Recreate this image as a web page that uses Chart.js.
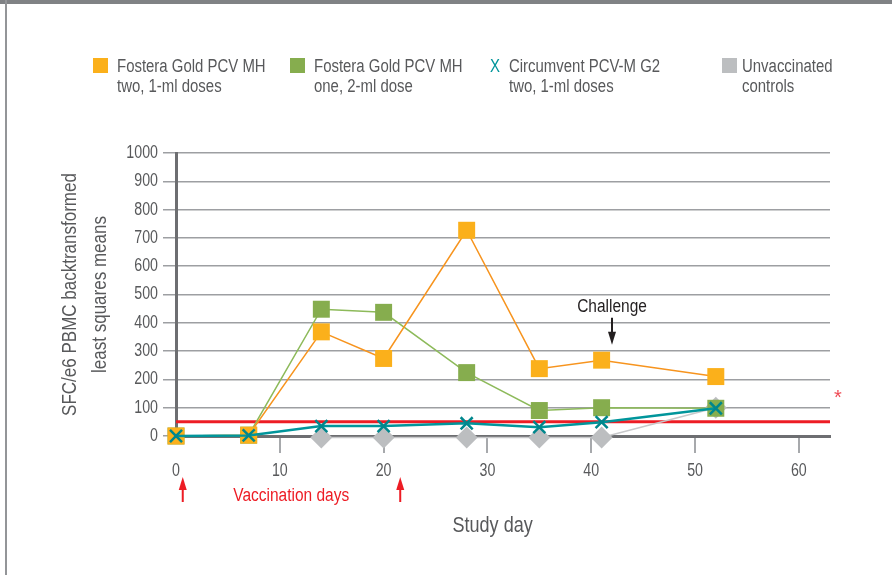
<!DOCTYPE html>
<html><head><meta charset="UTF-8"/>
<title>SFC/e6 PBMC por dia de estudo</title>
<script src="https://cdn.jsdelivr.net/npm/chart.js"></script>
<style>
* {
    margin: 0;
    padding: 0;
    box-sizing: border-box;
}

body {
    background: #ffffff;
    width: 892px;
    height: 575px;
    overflow: hidden;
    position: relative;
    font-family: 'Liberation Sans', Arial, sans-serif;
    color: #58595b;
}

.top-bar {
    position: absolute;
    left: 0; top: 0;
    width: 892px; height: 4px;
    background: #808285;
}

.left-bar {
    position: absolute;
    left: 5px; top: 0;
    width: 2px; height: 575px;
    background: #939598;
}

#chart {
    position: absolute;
    left: 0; top: 0;
}

.legend-item {
    position: absolute;
    top: 56px;
    font-size: 18px;
    line-height: 20px;
    color: #58595b;
    white-space: nowrap;
    transform: scaleX(0.83);
    transform-origin: left top;
}

.box {
    position: absolute;
    top: 58px;
    width: 15px;
    height: 15px;
}

.mark {
    color: #00959b;
}
</style>
</head>
<body>
<div class="top-bar"></div>
<div class="left-bar"></div>
<canvas id="chart" width="892" height="575"></canvas>

<span class="box" style="left:93px;background:#fbb01b"></span>
<div class="legend-item" style="left:117px">Fostera Gold PCV MH<br>two, 1-ml doses</div>
<span class="box" style="left:290px;background:#86ad4e"></span>
<div class="legend-item" style="left:314px">Fostera Gold PCV MH<br>one, 2-ml dose</div>
<div class="legend-item" style="left:490px"><span class="mark">X</span></div>
<div class="legend-item" style="left:509px">Circumvent PCV-M G2<br>two, 1-ml doses</div>
<span class="box" style="left:722px;background:#bcbec0"></span>
<div class="legend-item" style="left:742px">Unvaccinated<br>controls</div>

<script>
const FONT = "'Liberation Sans', Arial, sans-serif";
const TEXT_COLOR = '#58595b';

// dias de estudo e médias
const studyDays = [0, 7, 14, 20, 28, 35, 41, 52];
const fosteraTwoDoses = [0, 3, 368, 274, 727, 238, 268, 210];
const fosteraOneDose = [0, 3, 448, 437, 224, 90, 100, 98];
const circumvent = [0, 2, 35, 35, 45, 31, 49, 98];
const unvaccinated = [null, null, -5, -5, -5, -5, -5, 100];

const thresholdValue = 50;
const xMax = 63;
const yMax = 1000;
const yStep = 100;
const xStep = 10;

const yTitle = ['SFC/e6 PBMC backtransformed', 'least squares means'];
const xTitle = 'Study day';

// anotações
const vaccinationArrowDays = [0.65, 21.6];
const challengeDay = 42;
const asteriskPoint = { x: 63.75, y: 148 };

function toPoints(values) {
    return studyDays.map((d, i) => ({ x: d, y: values[i] }));
}

// texto "condensado" (sem fonte estreita instalada)
function narrowText(ctx, text, x, y, o) {
    ctx.save();
    ctx.translate(x, y);
    if (o.rotate) ctx.rotate(o.rotate);
    ctx.scale(o.sx || 0.84, 1);
    ctx.font = (o.bold ? 'bold ' : '') + (o.size || 18) + 'px ' + FONT;
    ctx.fillStyle = o.color || TEXT_COLOR;
    ctx.textAlign = o.align || 'center';
    ctx.textBaseline = 'middle';
    ctx.fillText(text, 0, 0);
    ctx.restore();
}

function drawArrow(ctx, x, yTail, yTip, color) {
    const dir = yTip < yTail ? 1 : -1;
    ctx.save();
    ctx.strokeStyle = color;
    ctx.fillStyle = color;
    ctx.lineWidth = 2;
    ctx.beginPath();
    ctx.moveTo(x, yTail);
    ctx.lineTo(x, yTip + dir * 8);
    ctx.stroke();
    ctx.beginPath();
    ctx.moveTo(x, yTip);
    ctx.lineTo(x - 4, yTip + dir * 13);
    ctx.lineTo(x + 4, yTip + dir * 13);
    ctx.closePath();
    ctx.fill();
    ctx.restore();
}

const textLayer = {
    id: 'textLayer',
    afterDraw(chart) {
        const { ctx, scales: { x, y } } = chart;
        const base = y.getPixelForValue(0);

        // rótulos dos eixos
        y.ticks.forEach(t => {
            narrowText(ctx, String(t.value), x.left - 18, y.getPixelForValue(t.value), { align: 'right', sx: 0.79 });
        });
        x.ticks.forEach(t => {
            narrowText(ctx, String(t.value), x.getPixelForValue(t.value), base + 35, { sx: 0.79 });
        });

        // títulos
        const midY = (y.top + y.bottom) / 2;
        narrowText(ctx, yTitle[0], x.left - 106, midY, { rotate: -Math.PI / 2, size: 20, sx: 0.85 });
        narrowText(ctx, yTitle[1], x.left - 76, midY, { rotate: -Math.PI / 2, size: 20, sx: 0.85 });
        narrowText(ctx, xTitle, x.getPixelForValue(30.5), base + 90, { size: 22, sx: 0.82 });

        // challenge
        const cx = x.getPixelForValue(challengeDay);
        narrowText(ctx, 'Challenge', cx, y.getPixelForValue(455), { color: '#231f20', sx: 0.86 });
        drawArrow(ctx, cx, y.getPixelForValue(418), y.getPixelForValue(322), '#231f20');

        // dias de vacinação
        vaccinationArrowDays.forEach(d => {
            drawArrow(ctx, x.getPixelForValue(d), base + 66, base + 41, '#ed1c24');
        });
        narrowText(ctx, 'Vaccination days', x.getPixelForValue(11.1), base + 60, { color: '#ed1c24', sx: 0.86 });

        // asterisco
        narrowText(ctx, '*', x.getPixelForValue(asteriskPoint.x), y.getPixelForValue(asteriskPoint.y) + 4,
            { color: '#ef4b55', size: 20, sx: 1 });
    }
};

new Chart(document.getElementById('chart'), {
    type: 'line',
    data: {
        datasets: [
            {
                label: 'Circumvent PCV-M G2 two, 1-ml doses',
                data: toPoints(circumvent),
                borderColor: '#00959b',
                borderWidth: 2.5,
                pointStyle: 'crossRot',
                pointRadius: 8.5,
                pointBorderWidth: 2.5,
                pointBorderColor: '#00878d',
                pointBackgroundColor: '#00878d'
            },
            {
                label: 'Fostera Gold PCV MH two, 1-ml doses',
                data: toPoints(fosteraTwoDoses),
                borderColor: '#f7941e',
                borderWidth: 1.5,
                pointStyle: 'rect',
                pointRadius: 12,
                pointBorderWidth: 0,
                pointBackgroundColor: '#fbb01b'
            },
            {
                label: 'Fostera Gold PCV MH one, 2-ml dose',
                data: toPoints(fosteraOneDose),
                borderColor: '#8dba5a',
                borderWidth: 1.5,
                pointStyle: 'rect',
                pointRadius: 12,
                pointBorderWidth: 0,
                pointBackgroundColor: '#86ad4e'
            },
            {
                label: 'Unvaccinated controls',
                data: toPoints(unvaccinated),
                borderColor: '#c7c8ca',
                borderWidth: 1.5,
                pointStyle: 'rectRot',
                pointRadius: 11,
                pointBorderWidth: 0,
                pointBackgroundColor: '#bcbec0'
            },
            {
                label: 'threshold',
                data: [{ x: 0, y: thresholdValue }, { x: xMax, y: thresholdValue }],
                borderColor: '#ed1c24',
                borderWidth: 3,
                pointRadius: 0
            }
        ]
    },
    options: {
        responsive: false,
        devicePixelRatio: 1,
        animation: false,
        clip: false,
        layout: { padding: { top: 153, right: 62, bottom: 0, left: 0 } },
        plugins: {
            legend: { display: false },
            tooltip: { enabled: false }
        },
        scales: {
            x: {
                type: 'linear',
                min: 0,
                max: xMax,
                afterFit: s => { s.height = 139; },
                border: { color: '#6d6e71', width: 3 },
                grid: {
                    drawOnChartArea: false,
                    drawTicks: true,
                    tickLength: 17,
                    lineWidth: 2,
                    color: c => (c.tick && c.tick.value === 0) ? 'rgba(0,0,0,0)' : '#a7a9ac'
                },
                ticks: { stepSize: xStep, includeBounds: false, display: false }
            },
            y: {
                min: 0,
                max: yMax,
                afterFit: s => { s.width = 176; },
                border: { color: '#6d6e71', width: 3 },
                grid: {
                    drawTicks: true,
                    tickLength: 13,
                    lineWidth: 1.5,
                    color: '#9d9fa2'
                },
                ticks: { stepSize: yStep, display: false }
            }
        }
    },
    plugins: [textLayer]
});
</script>
</body></html>
